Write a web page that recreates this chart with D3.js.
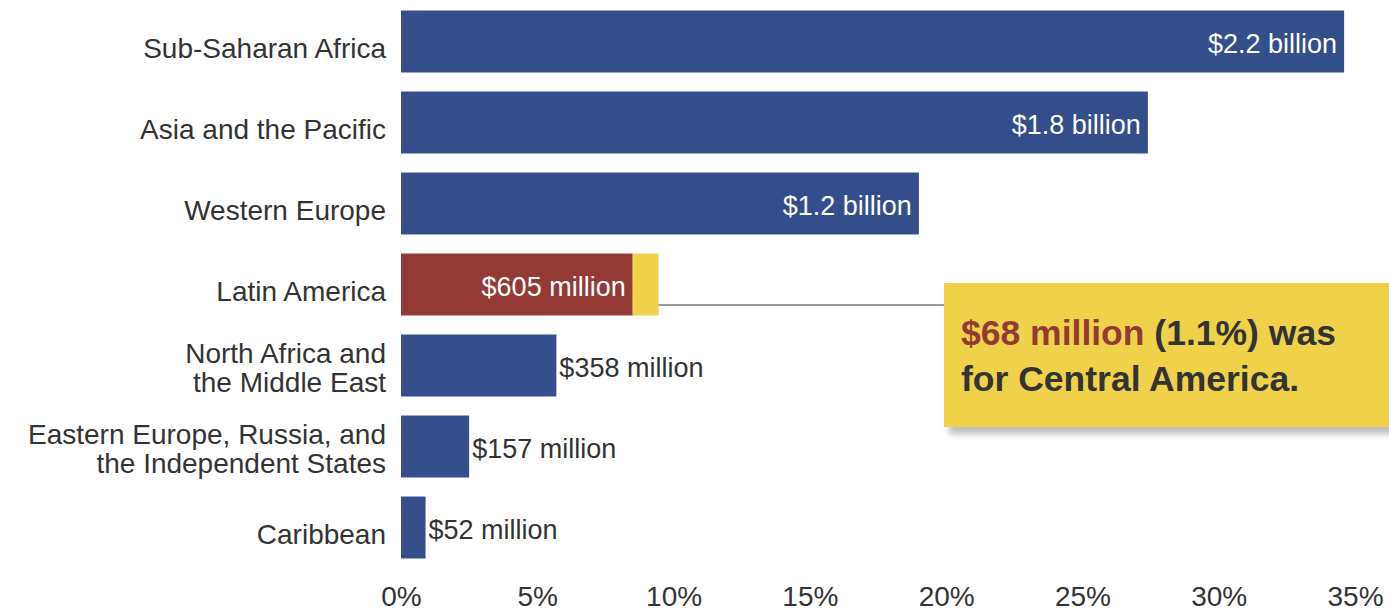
<!DOCTYPE html>
<html>
<head>
<meta charset="utf-8">
<script src="https://cdn.jsdelivr.net/npm/d3@7"></script>
<style>
  html, body { margin: 0; padding: 0; background: #fff; }
  svg { display: block; font-family: "Liberation Sans", Arial, sans-serif; }
</style>
</head>
<body>
<svg id="chart" width="1389" height="612"></svg>
<script>
// ---- data ----
const categories = [
  "Sub-Saharan Africa",
  "Asia and the Pacific",
  "Western Europe",
  "Latin America",
  "North Africa and the Middle East",
  "Eastern Europe, Russia, and the Independent States",
  "Caribbean"
];
const categoryLines = [
  ["Sub-Saharan Africa"],
  ["Asia and the Pacific"],
  ["Western Europe"],
  ["Latin America"],
  ["North Africa and", "the Middle East"],
  ["Eastern Europe, Russia, and", "the Independent States"],
  ["Caribbean"]
];
// share of total (%) – main segment
const shares = [34.6, 27.4, 19.0, 8.5, 5.7, 2.5, 0.9];
// Central America portion (only Latin America)
const centralAmerica = [0, 0, 0, 0.95, 0, 0, 0];
const valueLabels = ["$2.2 billion", "$1.8 billion", "$1.2 billion", "$605 million",
                     "$358 million", "$157 million", "$52 million"];
const tickValues = [0, 5, 10, 15, 20, 25, 30, 35];
const tickLabels = ["0%", "5%", "10%", "15%", "20%", "25%", "30%", "35%"];
const calloutLine1 = [{t: "$68 million", c: "red"}, {t: " (1.1%) was", c: "dark"}];
const calloutLine2 = "for Central America.";

// ---- styles ----
const BLUE = "#344e8c", RED = "#943a34", YELLOW = "#efd24a", DARK = "#333333";

const svg = d3.select("#chart");

const x = d3.scaleLinear().domain([0, 35]).range([401, 1355]);
const y = d3.scaleBand().domain(categories).range([1, 568]).paddingInner(0.235).paddingOuter(0.1175);

const defs = svg.append("defs");
const f = defs.append("filter").attr("id", "shadow").attr("x", "-5%").attr("y", "-5%").attr("width", "120%").attr("height", "130%");
f.append("feDropShadow").attr("dx", 5).attr("dy", 7).attr("stdDeviation", 3)
  .attr("flood-color", "#888").attr("flood-opacity", 0.55);

// bars
const g = svg.append("g");
const isRed = (i) => centralAmerica[i] > 0;
g.selectAll("rect.main").data(categories).join("rect")
  .attr("class", "main")
  .attr("x", x(0))
  .attr("y", d => y(d))
  .attr("width", (d, i) => x(shares[i]) - x(0))
  .attr("height", y.bandwidth())
  .attr("fill", (d, i) => isRed(i) ? RED : BLUE);

g.selectAll("rect.ca").data(categories.filter((d, i) => centralAmerica[i] > 0)).join("rect")
  .attr("class", "ca")
  .attr("x", d => x(shares[categories.indexOf(d)]))
  .attr("y", d => y(d))
  .attr("width", d => { const i = categories.indexOf(d); return x(shares[i] + centralAmerica[i]) - x(shares[i]); })
  .attr("height", y.bandwidth())
  .attr("fill", YELLOW);

// category labels
categories.forEach((c, i) => {
  const cy = y(c) + y.bandwidth() / 2;
  const lines = categoryLines[i];
  const t = svg.append("text")
    .attr("text-anchor", "end")
    .attr("fill", DARK)
    .attr("font-size", 28);
  if (lines.length === 1) {
    t.append("tspan").attr("x", 386).attr("y", cy + 16).text(lines[0]);
  } else {
    lines.forEach((l, k) => {
      t.append("tspan").attr("x", 386).attr("y", cy - 3 + k * 29).text(l);
    });
  }
});

// value labels
categories.forEach((c, i) => {
  const cy = y(c) + y.bandwidth() / 2;
  const end = x(shares[i]);
  const inside = (end - x(0)) > 200;
  svg.append("text")
    .attr("x", inside ? end - 7 : x(shares[i] + centralAmerica[i]) + 3)
    .attr("y", cy + 11)
    .attr("text-anchor", inside ? "end" : "start")
    .attr("fill", inside ? "#ffffff" : DARK)
    .attr("font-size", 27)
    .text(valueLabels[i]);
});

// x axis labels (no line, no ticks)
const axis = d3.axisBottom(x).tickValues(tickValues).tickFormat((d, i) => tickLabels[i]).tickSize(0).tickPadding(0);
const ax = svg.append("g").attr("transform", "translate(0,585)").call(axis);
ax.select(".domain").remove();
ax.selectAll("text").attr("font-size", 28).attr("fill", DARK)
  .attr("font-family", "Liberation Sans, Arial, sans-serif").attr("dy", "0.75em");

// callout
const li = 3;
const lineY = 305;
svg.append("line")
  .attr("x1", x(shares[li] + centralAmerica[li])).attr("x2", 944)
  .attr("y1", lineY).attr("y2", lineY)
  .attr("stroke", "#9a9a9a").attr("stroke-width", 2);

svg.append("rect")
  .attr("x", 944).attr("y", 283).attr("width", 470).attr("height", 144)
  .attr("fill", YELLOW).attr("filter", "url(#shadow)");

const ct = svg.append("text").attr("font-size", 35.5).attr("font-weight", "bold").attr("fill", DARK);
calloutLine1.forEach((p, k) => {
  const s = ct.append("tspan").attr("fill", p.c === "red" ? RED : DARK).text(p.t);
  if (k === 0) s.attr("x", 961).attr("y", 345);
});
ct.append("tspan").attr("x", 961).attr("y", 391).text(calloutLine2);
</script>
</body>
</html>
